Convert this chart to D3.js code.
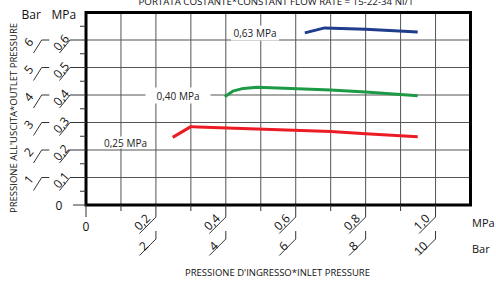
<!DOCTYPE html>
<html>
<head>
<meta charset="utf-8">
<script src="https://cdn.jsdelivr.net/npm/d3@7"></script>
<style>
  body { margin: 0; background: #fff; }
  svg { display: block; font-family: "Open Sans", sans-serif; }
</style>
</head>
<body>
<div id="chart"></div>
<script>
// inlet pressure (MPa) vs outlet pressure (MPa), one curve per setting
const inlet063 = [0.626, 0.683, 0.80, 0.949];
const outlet063 = [0.626, 0.644, 0.639, 0.629];
const inlet040 = [0.397, 0.42, 0.45, 0.49, 0.70, 0.80, 0.949];
const outlet040 = [0.394, 0.414, 0.424, 0.428, 0.418, 0.411, 0.397];
const inlet025 = [0.248, 0.30, 0.32, 0.70, 0.80, 0.949];
const outlet025 = [0.246, 0.285, 0.284, 0.267, 0.259, 0.248];

const seriesNames = ["0,63 MPa", "0,40 MPa", "0,25 MPa"];
const yTicksMPa = [0.1, 0.2, 0.3, 0.4, 0.5, 0.6];
const yTicksBar = ["1", "2", "3", "4", "5", "6"];
const xTicksMPa = [0.2, 0.4, 0.6, 0.8, 1.0];
const xTicksBar = ["2", "4", "6", "8", "10"];

const width = 496, height = 282;
const svg = d3.select("#chart").append("svg")
    .attr("width", width)
    .attr("height", height);

const x = d3.scaleLinear().domain([0, 1.1]).range([86, 470.5]);
const y = d3.scaleLinear().domain([0, 0.7]).range([205, 12.5]);
const fmt = v => v.toFixed(1).replace(".", ",");

// grid
const grid = svg.append("g").attr("stroke", "#555").attr("stroke-width", 1);
grid.selectAll(".vx").data(d3.range(1, 11).map(i => i / 10)).enter()
    .append("line")
    .attr("x1", d => x(d)).attr("x2", d => x(d))
    .attr("y1", y(0)).attr("y2", y(0.7));
grid.selectAll(".hy").data(yTicksMPa).enter()
    .append("line")
    .attr("x1", x(0)).attr("x2", x(1.1))
    .attr("y1", d => y(d)).attr("y2", d => y(d));

// series labels sit on white boxes over the grid
const labels = [
  { text: seriesNames[0], cx: 255, cy: 33, w: 48, h: 15 },
  { text: seriesNames[1], cx: 178, cy: 95.5, w: 65, h: 16 },
  { text: seriesNames[2], cx: 125.5, cy: 142.5, w: 52, h: 12 }
];
svg.selectAll(".lbox").data(labels).enter()
    .append("rect")
    .attr("x", d => d.cx - d.w / 2).attr("y", d => d.cy - d.h / 2)
    .attr("width", d => d.w).attr("height", d => d.h)
    .attr("fill", "#fff");
svg.selectAll(".ltxt").data(labels).enter()
    .append("text")
    .attr("x", d => d.cx).attr("y", d => d.cy)
    .attr("text-anchor", "middle").attr("dominant-baseline", "central")
    .attr("font-size", 10).attr("fill", "#222")
    .text(d => d.text);

// curves
const line = d3.line().x(d => x(d[0])).y(d => y(d[1]));
const curves = [
  { xs: inlet063, ys: outlet063, color: "#1f3d8c" },
  { xs: inlet040, ys: outlet040, color: "#1d9a45" },
  { xs: inlet025, ys: outlet025, color: "#ec1c24" }
];
svg.selectAll(".curve").data(curves).enter()
    .append("path")
    .attr("d", d => line(d.xs.map((v, i) => [v, d.ys[i]])))
    .attr("fill", "none")
    .attr("stroke", d => d.color)
    .attr("stroke-width", 3)
    .attr("stroke-linejoin", "round");

// frame
svg.append("rect")
    .attr("x", x(0)).attr("y", y(0.7))
    .attr("width", x(1.1) - x(0)).attr("height", y(0) - y(0.7))
    .attr("fill", "none").attr("stroke", "#000").attr("stroke-width", 3);

// left axis
const ax = svg.append("g").attr("stroke", "#333").attr("stroke-width", 1).attr("fill", "none");
yTicksMPa.forEach(v => {
  const yy = y(v);
  ax.append("polyline").attr("points", `${59.5},${yy + 13} 70,${yy} ${x(0)},${yy}`);
  ax.append("polyline").attr("points", `${33.5},${yy + 13} 41.7,${yy} 49.3,${yy}`);
});
d3.range(0, 7).map(i => i / 10 + 0.05).forEach(v => {
  ax.append("line").attr("x1", 80).attr("x2", x(0)).attr("y1", y(v)).attr("y2", y(v));
});
ax.append("line").attr("x1", 73).attr("x2", x(0)).attr("y1", y(0)).attr("y2", y(0));

const tl = svg.append("g").attr("font-size", 12).attr("fill", "#111");
tl.selectAll(".ympa").data(yTicksMPa).enter()
    .append("text")
    .attr("transform", d => `translate(61,${y(d) + 2.5}) rotate(-50)`)
    .attr("text-anchor", "middle").attr("dominant-baseline", "central")
    .text(d => fmt(d));
tl.selectAll(".ybar").data(yTicksBar).enter()
    .append("text")
    .attr("transform", (d, i) => `translate(28.5,${y(yTicksMPa[i]) + 2}) rotate(-50)`)
    .attr("text-anchor", "middle").attr("dominant-baseline", "central")
    .text(d => d);
tl.append("text").attr("x", 59).attr("y", y(0))
    .attr("text-anchor", "middle").attr("dominant-baseline", "central").text("0");
tl.append("text").attr("x", 21.5).attr("y", 18.5).text("Bar");
tl.append("text").attr("x", 51.5).attr("y", 18.5).text("MPa");

// bottom axis
[0.1, 0.3, 0.5, 0.7, 0.9].forEach(v => {
  ax.append("line").attr("x1", x(v)).attr("x2", x(v)).attr("y1", y(0)).attr("y2", 211);
});
ax.append("line").attr("x1", x(0)).attr("x2", x(0)).attr("y1", y(0)).attr("y2", 217);
xTicksMPa.forEach(v => {
  const xx = x(v);
  ax.append("polyline").attr("points", `${xx},${y(0)} ${xx},217 ${xx - 16.5},233.5`);
  ax.append("polyline").attr("points", `${xx},231 ${xx},239 ${xx - 16.5},255.5`);
});
tl.selectAll(".xmpa").data(xTicksMPa).enter()
    .append("text")
    .attr("transform", d => `translate(${x(d) - 14},222) rotate(-45)`)
    .attr("text-anchor", "middle").attr("dominant-baseline", "central")
    .text(d => fmt(d));
tl.selectAll(".xbar").data(xTicksBar).enter()
    .append("text")
    .attr("transform", (d, i) => `translate(${x(xTicksMPa[i]) - 10},243.5) rotate(-45)`)
    .attr("text-anchor", "end").attr("dominant-baseline", "central")
    .text(d => d);
tl.append("text").attr("x", x(0)).attr("y", 226)
    .attr("text-anchor", "middle").attr("dominant-baseline", "central").text("0");
tl.append("text").attr("x", 472).attr("y", 227).attr("font-size", 11).text("MPa");
tl.append("text").attr("x", 472).attr("y", 253).attr("font-size", 11).text("Bar");

// titles
svg.append("text")
    .attr("x", 276).attr("y", 4.5)
    .attr("text-anchor", "middle").attr("font-size", 9.5).attr("fill", "#111")
    .attr("textLength", 275).attr("lengthAdjust", "spacingAndGlyphs")
    .text("PORTATA COSTANTE*CONSTANT FLOW RATE = 15-22-34 Nl/1");
svg.append("text")
    .attr("x", 277.5).attr("y", 276)
    .attr("text-anchor", "middle").attr("font-size", 9.5).attr("fill", "#111")
    .attr("textLength", 185).attr("lengthAdjust", "spacingAndGlyphs")
    .text("PRESSIONE D'INGRESSO*INLET PRESSURE");
svg.append("text")
    .attr("transform", "translate(17,118) rotate(-90)")
    .attr("text-anchor", "middle").attr("font-size", 9.5).attr("fill", "#111")
    .attr("textLength", 190).attr("lengthAdjust", "spacingAndGlyphs")
    .text("PRESSIONE ALL'USCITA*OUTLET PRESSURE");
</script>
</body>
</html>
